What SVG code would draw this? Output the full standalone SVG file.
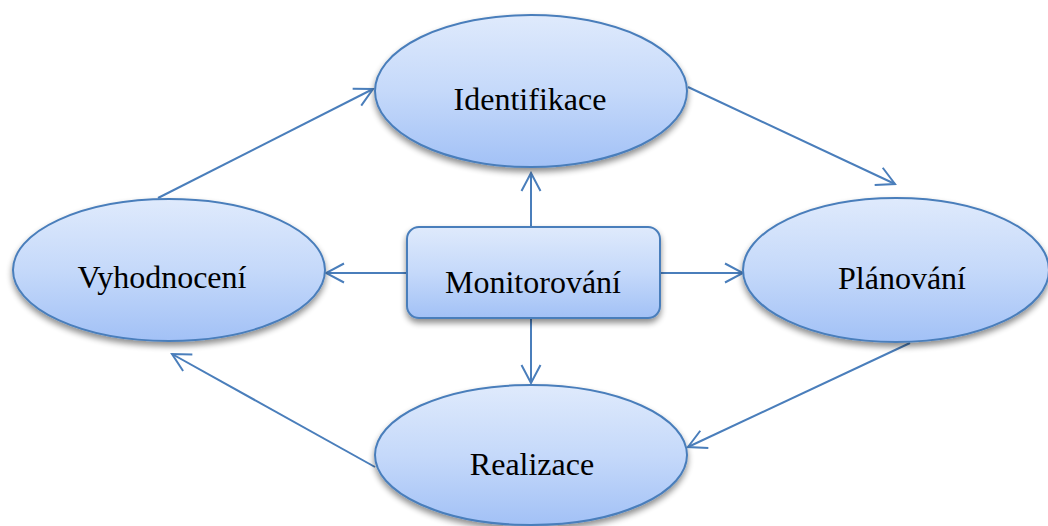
<svg xmlns="http://www.w3.org/2000/svg" width="1048" height="526" viewBox="0 0 1048 526">
  <defs>
    <linearGradient id="fillGrad" x1="0" y1="0" x2="0" y2="1">
      <stop offset="0" stop-color="#dfeafc"/>
      <stop offset="0.5" stop-color="#c5d9fa"/>
      <stop offset="1" stop-color="#a2c1f6"/>
    </linearGradient>
    <filter id="shadow" x="-20%" y="-20%" width="140%" height="150%">
      <feGaussianBlur in="SourceAlpha" stdDeviation="3"/>
      <feOffset dx="0" dy="4" result="b"/>
      <feComponentTransfer><feFuncA type="linear" slope="0.45"/></feComponentTransfer>
      <feMerge><feMergeNode/><feMergeNode in="SourceGraphic"/></feMerge>
    </filter>
    <marker id="arrow" viewBox="-20 -12 22 24" refX="0" refY="0" markerWidth="22" markerHeight="24" markerUnits="userSpaceOnUse" orient="auto">
      <path d="M -18 -9.5 L 0 0 L -18 9.5" fill="none" stroke="#4a7ebb" stroke-width="2"/>
    </marker>
    <style>
      .node { fill: url(#fillGrad); stroke: #4a7ebb; stroke-width: 2; filter: url(#shadow); }
      .label { font-family: "Liberation Serif", "Times New Roman", serif; font-size: 32px; fill: #000; text-anchor: middle; }
      .conn { stroke: #4a7ebb; stroke-width: 2; fill: none; marker-end: url(#arrow); }
    </style>
  </defs>
  <rect width="1048" height="526" fill="#ffffff"/>

  <g id="connectors">
    <line class="conn" x1="158" y1="198" x2="373" y2="89"/>
    <line class="conn" x1="688" y1="87" x2="895" y2="184"/>
    <line class="conn" x1="910" y1="343" x2="688" y2="447"/>
    <line class="conn" x1="375" y1="467" x2="172" y2="354"/>
    <line class="conn" x1="531" y1="227" x2="531" y2="173"/>
    <line class="conn" x1="407" y1="273" x2="326" y2="273"/>
    <line class="conn" x1="660" y1="273" x2="743" y2="273"/>
    <line class="conn" x1="531" y1="318" x2="531" y2="383"/>
  </g>

  <g id="identifikace">
    <ellipse class="node" cx="531" cy="91" rx="156" ry="76"/>
    <text class="label" x="530" y="110">Identifikace</text>
  </g>
  <g id="vyhodnoceni">
    <ellipse class="node" cx="169" cy="270" rx="156" ry="71"/>
    <text class="label" x="162" y="288">Vyhodnocení</text>
  </g>
  <g id="planovani">
    <ellipse class="node" cx="896" cy="270" rx="153" ry="72"/>
    <text class="label" x="902" y="289">Plánování</text>
  </g>
  <g id="realizace">
    <ellipse class="node" cx="531" cy="455" rx="156" ry="70"/>
    <text class="label" x="532" y="475">Realizace</text>
  </g>
  <g id="monitorovani">
    <rect class="node" x="407" y="227" width="253" height="91" rx="12" ry="12"/>
    <text class="label" x="533" y="293">Monitorování</text>
  </g>
</svg>
